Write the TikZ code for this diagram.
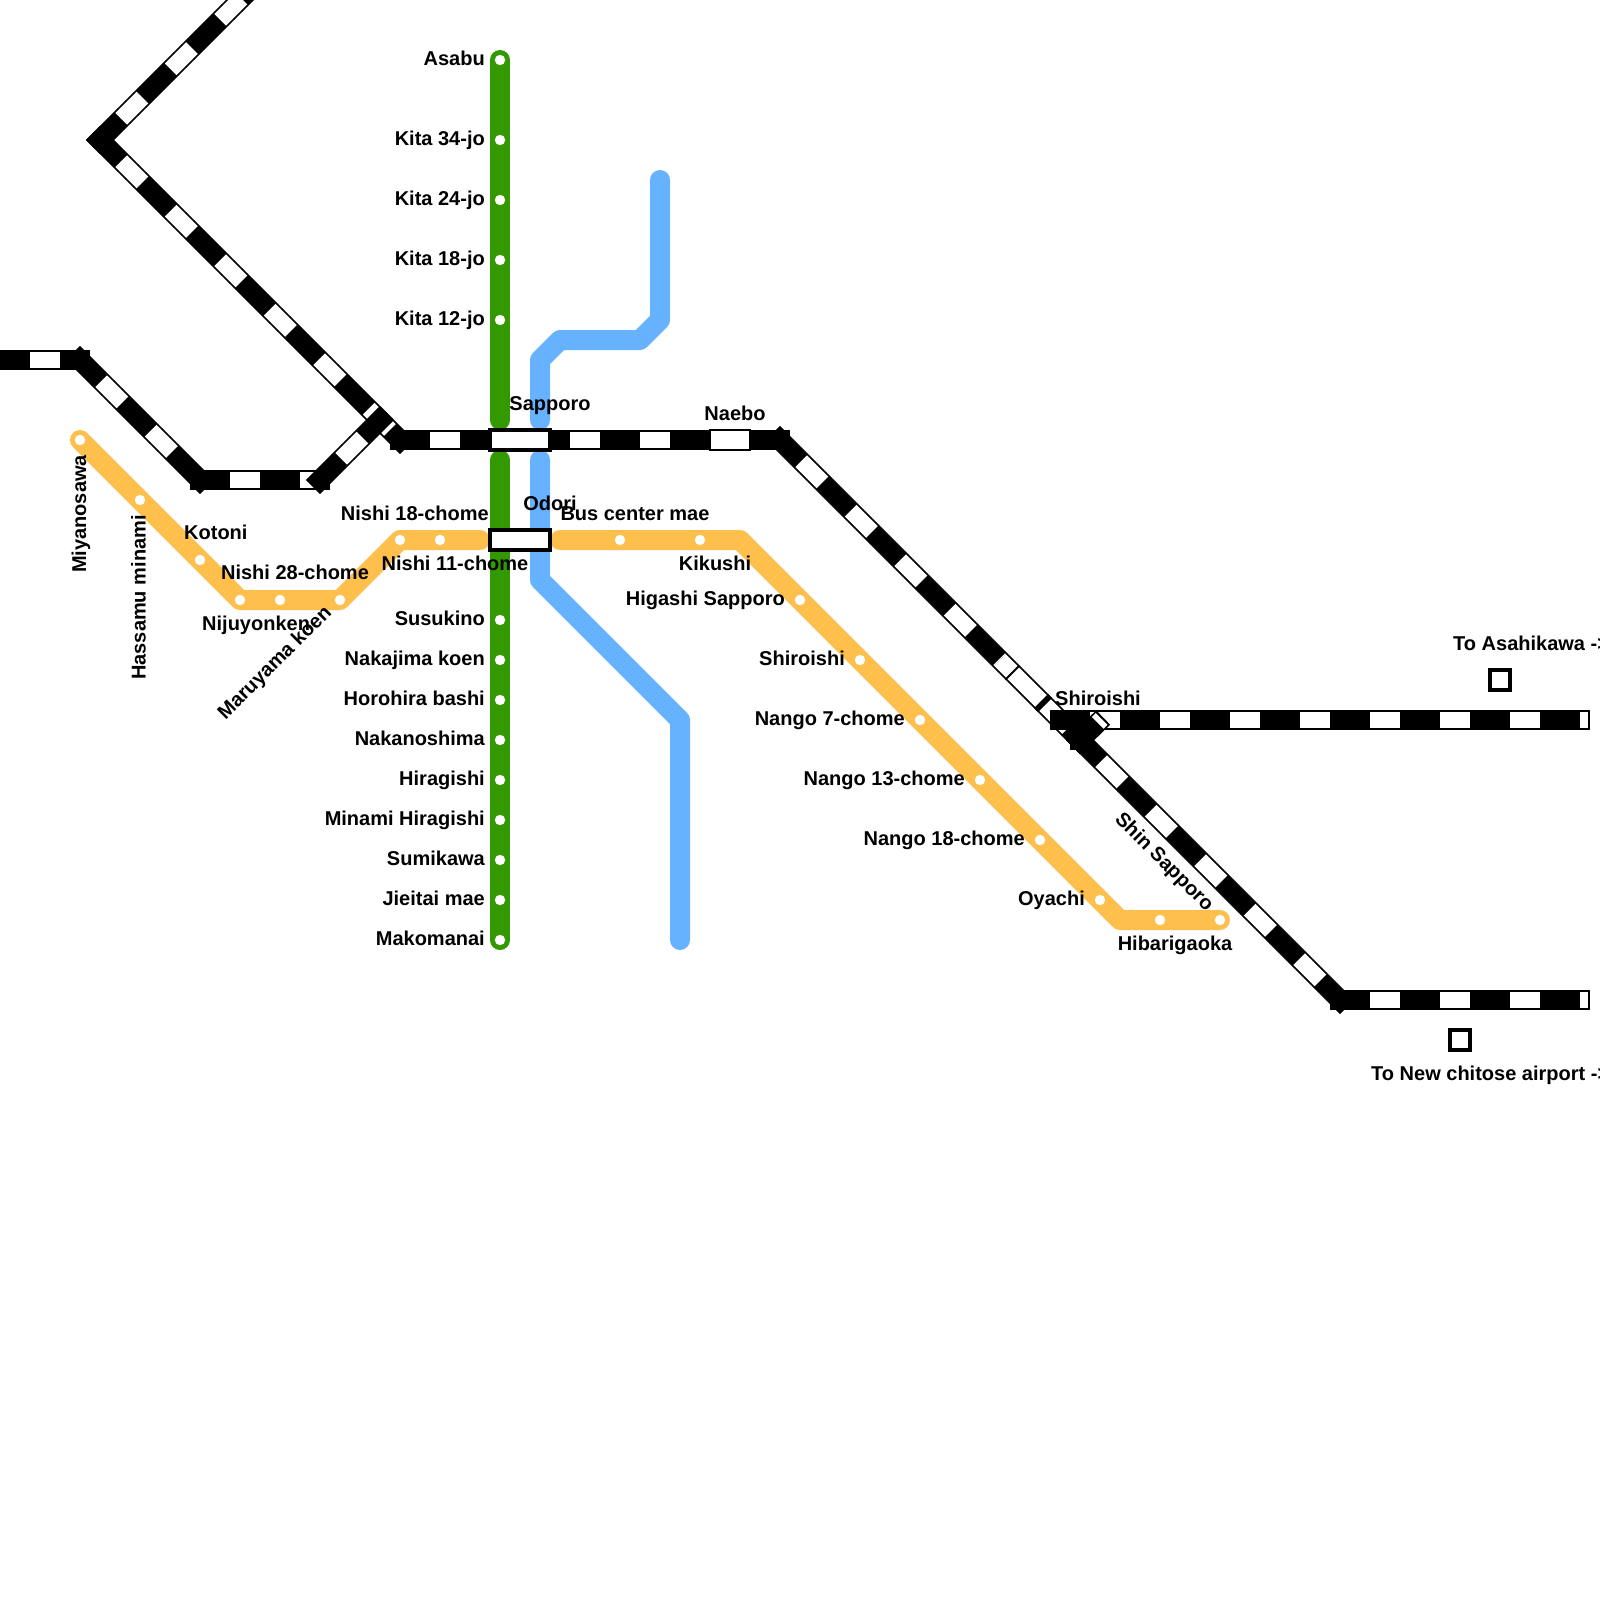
\documentclass[tikz,border=0pt]{standalone}
\usepackage{fontspec}
\setmainfont{Liberation Sans}
\definecolor{lgreen}{HTML}{339900}
\definecolor{lblue}{HTML}{66B2FF}
\definecolor{lorange}{HTML}{FFBF4D}
\tikzset{
  railblack/.style={draw=black,line width=20pt,line cap=rect},
  railwhite/.style={draw=white,line width=16.6pt,dash pattern=on 30pt off 40pt,dash phase=40pt},
  railtail/.style={railwhite,shorten >=-8pt},
  plainwhite/.style={draw=white,line width=16.6pt},
  railbar/.style={draw=black,line width=20pt},
  metro/.style={line width=20pt,line cap=round,line join=round},
  dot/.style={circle,fill=white,inner sep=0pt,minimum size=10.4pt},
  station/.style={rectangle,draw=black,fill=white,line width=4pt,minimum width=60pt,minimum height=20pt,inner sep=0pt},
  minisq/.style={rectangle,draw=black,fill=white,line width=4pt,minimum width=20pt,minimum height=20pt,inner sep=0pt},
  thinstation/.style={rectangle,draw=black,fill=white,line width=2pt,minimum width=40pt,minimum height=20pt,inner sep=0pt},
  lab/.style={inner sep=0pt,font=\fontsize{20pt}{22pt}\selectfont\bfseries},
  labR/.style={lab,anchor=base east},
  labL/.style={lab,anchor=base west},
  labC/.style={lab,anchor=base},
}
\newcommand{\railseg}[2]{\draw[railblack] (#1) -- (#2); \draw[railwhite] (#1) -- (#2);}
\newcommand{\railtailseg}[2]{\draw[railblack] (#1) -- (#2); \draw[railtail] (#1) -- (#2);}
\begin{document}
\begin{tikzpicture}[x=1pt,y=-1pt]
\useasboundingbox (0,0) rectangle (1600,1600);
\clip (0,0) rectangle (1600,1600);
\fill[white] (0,0) rectangle (1600,1600);
% coordinates
\coordinate (a0) at (0,360);
\coordinate (a1) at (80,360);
\coordinate (a2) at (200,480);
\coordinate (a3) at (320,480);
\coordinate (a4) at (380,420);
\coordinate (b0) at (260,-20);
\coordinate (b1) at (100,140);
\coordinate (b2) at (400,440);
\coordinate (b3) at (780,440);
\coordinate (c1) at (1000,660);
\coordinate (c2) at (1068,728);
\coordinate (c3) at (1080,740);
\coordinate (c4) at (1340,1000);
\coordinate (c5) at (1580,1000);
\coordinate (d1) at (1060,720);
\coordinate (d2) at (1580,720);
\coordinate (e1) at (1080,740);
\coordinate (e2) at (1096,724.5);
\coordinate (e3) at (1097.7,722.8);
\coordinate (e4) at (1101.6,718.9);
\coordinate (f1) at (1011.8,671.8);
\coordinate (f2) at (1013.2,673.2);
\coordinate (f3) at (1041,701);
\coordinate (f4) at (1045,705);
% metro lines
\draw[metro,lgreen] (500,60) -- (500,420);
\draw[metro,lgreen] (500,460) -- (500,940);
\draw[metro,lblue] (660,180) -- (660,320) -- (640,340) -- (560,340) -- (540,360) -- (540,420);
\draw[metro,lblue] (540,460) -- (540,580) -- (680,720) -- (680,940);
\draw[metro,lorange] (80,440) -- (240,600) -- (340,600) -- (400,540) -- (480,540);
\draw[metro,lorange] (560,540) -- (740,540) -- (1120,920) -- (1220,920);
% railways
\railseg{a0}{a1}
\railseg{a1}{a2}
\railseg{a2}{a3}
\railseg{b1}{b0}
\railseg{b1}{b2}
\railseg{a3}{a4}
\railseg{b2}{b3}
\draw[railblack] (b3) -- (c3);
\draw[railwhite] (b3) -- (c1);
\draw[plainwhite] (c1) -- (c2);
\draw[railbar] (f1) -- (f2);
\draw[railbar] (f3) -- (f4);
\railtailseg{d1}{d2}
\railseg{c3}{c4}
\railtailseg{c4}{c5}
\draw[railblack] (c3) -- ++(0.01,0);
\draw[railblack] (e1) -- (e2);
\draw[plainwhite] (e3) -- (e4);
% stations
\node[station] (stSapporo) at (520,440) {};
\node[station] (stOdori) at (520,540) {};
\node[thinstation] (stNaebo) at (730,440) {};
\node[minisq] (sqAsahi) at (1500,680) {};
\node[minisq] (sqAir) at (1460,1040) {};
% dots
\foreach \y [count=\i] in {60,140,200,260,320,620,660,700,740,780,820,860,900,940}
  \node[dot] (g\i) at (500,\y) {};
\foreach \x/\y [count=\i] in {80/440,140/500,200/560,240/600,280/600,340/600,400/540,440/540,620/540,700/540,800/600,860/660,920/720,980/780,1040/840,1100/900,1160/920,1220/920}
  \node[dot] (o\i) at (\x,\y) {};
% green labels
\node[labR] (l1) at (485,66) {Asabu};
\node[labR] (l2) at (485,145.5) {Kita 34-jo};
\node[labR] (l3) at (485,205.5) {Kita 24-jo};
\node[labR] (l4) at (485,265.5) {Kita 18-jo};
\node[labR] (l5) at (485,325.5) {Kita 12-jo};
\node[labR] (l6) at (485,625.5) {Susukino};
\node[labR] (l7) at (485,665.5) {Nakajima koen};
\node[labR] (l8) at (485,705.5) {Horohira bashi};
\node[labR] (l9) at (485,745.5) {Nakanoshima};
\node[labR] (l10) at (485,785.5) {Hiragishi};
\node[labR] (l11) at (485,825.5) {Minami Hiragishi};
\node[labR] (l12) at (485,865.5) {Sumikawa};
\node[labR] (l13) at (485,905.5) {Jieitai mae};
\node[labR] (l14) at (485,945.5) {Makomanai};
% others
\node[labC] (m1) at (550,410) {Sapporo};
\node[labC] (m2) at (735,420) {Naebo};
\node[labC] (m3) at (550,510) {Odori};
\node[labC] (m4) at (635,520) {Bus center mae};
\node[labR] (m5) at (489,520) {Nishi 18-chome};
\node[labC] (m6) at (455,570) {Nishi 11-chome};
\node[labC] (m7) at (715,570) {Kikushi};
\node[labR] (m8) at (785,605) {Higashi Sapporo};
\node[labR] (m9) at (845,665) {Shiroishi};
\node[labR] (m10) at (905,725) {Nango 7-chome};
\node[labR] (m11) at (965,785) {Nango 13-chome};
\node[labR] (m12) at (1025,845) {Nango 18-chome};
\node[labR] (m13) at (1085,905) {Oyachi};
\node[labC] (m14) at (1175,950) {Hibarigaoka};
\node[labC,rotate=-45] (m15) at (1160,866) {Shin Sapporo};
\node[labL] (m16) at (1055,705) {Shiroishi};
\node[labL] (m17) at (1453,650) {To Asahikawa ->};
\node[labL] (m18) at (1371,1080) {To New chitose airport ->};
\node[labC,rotate=90] (m19) at (86,514) {Miyanosawa};
\node[labC,rotate=90] (m20) at (145.5,597.5) {Hassamu minami};
\node[labL] (m21) at (184,539.5) {Kotoni};
\node[labC] (m22) at (295,579.5) {Nishi 28-chome};
\node[labL] (m23) at (202,630) {Nijuyonken};
\node[labC,rotate=45] (m24) at (279,667) {Maruyama koen};
\end{tikzpicture}
\end{document}
